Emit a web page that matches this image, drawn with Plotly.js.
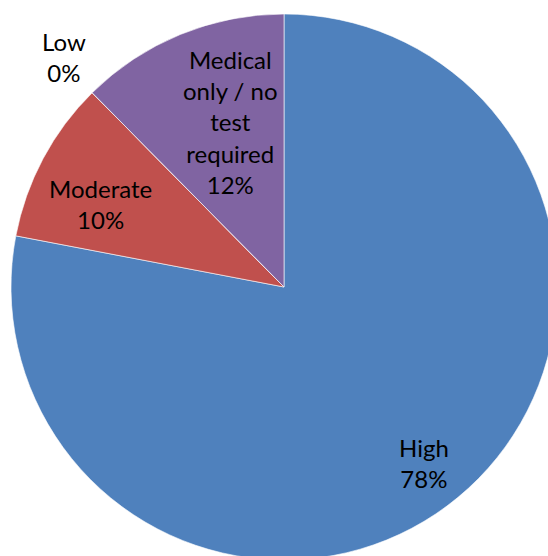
<!DOCTYPE html>
<html>
<head>
<meta charset="utf-8">
<script src="https://cdn.plot.ly/plotly-3.0.1.min.js"></script>
<style>
html, body { margin: 0; padding: 0; overflow: hidden; background: #fff; }
#chart { width: 570px; height: 580px; }
</style>
</head>
<body>
<div id="chart"></div>
<script>
var categories = ['High', 'Moderate', 'Low', 'Medical only / no test required'];
var labelLines = ['High', 'Moderate', 'Low', 'Medical<br>only / no<br>test<br>required'];
var shares = [78.0, 9.6, 0.0, 12.4];
var colors = ['#4F81BD', '#C0504D', '#9BBB59', '#8064A2'];

// label anchor positions (pixels in the 570x580 plot), style only
var labelPos = [[424, 463], [100, 204], [64, 57], [230, 122]];

var W = 570, H = 580;
var total = shares.reduce(function (a, b) { return a + b; }, 0);
var FONT = 'Lato, Carlito, Calibri, sans-serif';

var annotations = categories.map(function (c, i) {
  return {
    xref: 'paper', yref: 'paper',
    x: labelPos[i][0] / W, y: 1 - labelPos[i][1] / H,
    xanchor: 'center', yanchor: 'middle',
    text: labelLines[i] + '<br>' + Math.round(shares[i] / total * 100) + '%',
    showarrow: false,
    align: 'center',
    font: { family: FONT, size: 24, color: '#000000' }
  };
});

var trace = {
  type: 'pie',
  labels: categories,
  values: shares,
  sort: false,
  direction: 'clockwise',
  rotation: 0,
  marker: { colors: colors, line: { color: '#ffffff', width: 0.6 } },
  textinfo: 'none',
  hoverinfo: 'none',
  automargin: false,
  domain: { x: [11 / W, 557 / W], y: [20 / H, 566 / H] }
};

var layout = {
  width: W,
  height: H,
  margin: { l: 0, r: 0, t: 0, b: 0 },
  showlegend: false,
  paper_bgcolor: '#ffffff',
  font: { family: FONT, color: '#000000' },
  annotations: annotations
};

Plotly.newPlot('chart', [trace], layout, { staticPlot: true, displayModeBar: false });
</script>
</body>
</html>
